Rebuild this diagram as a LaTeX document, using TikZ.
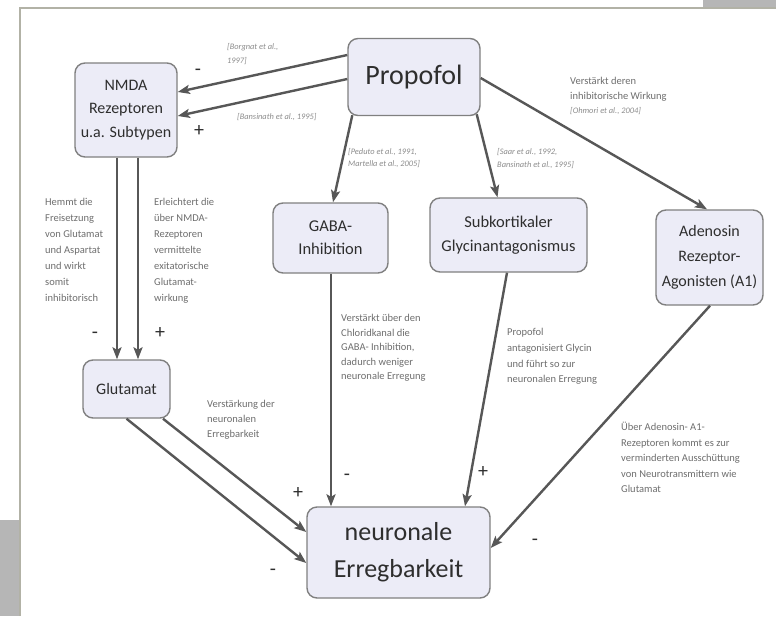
\documentclass[tikz,border=0pt]{standalone}
\usepackage{fontspec}
\setmainfont{Carlito}
\usetikzlibrary{arrows.meta}
\definecolor{boxfill}{HTML}{ECECF7}
\definecolor{boxdraw}{HTML}{808080}
\definecolor{arr}{HTML}{575757}
\definecolor{note}{HTML}{6E6E6E}
\definecolor{cite}{HTML}{8C8C8C}
\definecolor{framecol}{HTML}{B2B2A6}
\definecolor{block}{HTML}{B6B6B6}
\definecolor{boxtext}{HTML}{2E2E2E}
\begin{document}
\begin{tikzpicture}[x=1pt,y=-1pt,
 box/.style={draw=boxdraw, line width=1.4pt, fill=boxfill, rounded corners=10pt, align=center, inner sep=0pt, text=boxtext},
 arrowline/.style={draw=arr, line width=2.4pt, -{Stealth[length=12pt,width=9pt,inset=2.5pt]}},
 sign/.style={font=\fontsize{20}{20}\selectfont, text=boxtext, inner sep=0pt},
 notetext/.style={text=note, align=left, anchor=north west, inner sep=0pt},
 citetext/.style={text=cite, align=left, anchor=north west, inner sep=0pt}]

\useasboundingbox (0,0) rectangle (776,616);
\fill[white] (0,0) rectangle (776,616);
\fill[block] (703,0) rectangle (776,7);
\fill[block] (0,520) rectangle (20,616);
\draw[framecol, line width=2pt] (20,616) -- (20,8) -- (776,8);

% boxes
\node[box, minimum width=132pt, minimum height=77pt, font=\fontsize{28}{32}\selectfont] (prop) at (414,77) {Propofol};
\node[box, minimum width=102pt, minimum height=94pt, font=\fontsize{16}{23.5}\selectfont] (nmda) at (126,110) {NMDA\\Rezeptoren\\u.a. Subtypen};
\node[box, minimum width=115pt, minimum height=70pt, font=\fontsize{16.5}{23}\selectfont] (gaba) at (330.5,238) {GABA-\\Inhibition};
\node[box, minimum width=157pt, minimum height=74pt, font=\fontsize{16.5}{24}\selectfont] (sub) at (508.5,235) {Subkortikaler\\Glycinantagonismus};
\node[box, minimum width=107pt, minimum height=95pt, font=\fontsize{16}{25}\selectfont] (aden) at (709.5,257.5) {Adenosin\\Rezeptor-\\Agonisten (A1)};
\node[box, minimum width=87pt, minimum height=58pt, font=\fontsize{16}{20}\selectfont] (glut) at (126.5,389) {Glutamat};
\node[box, minimum width=183pt, minimum height=91pt, font=\fontsize{26}{37}\selectfont] (neur) at (398.5,552.5) {neuronale\\Erregbarkeit};

% connectors
\draw[arrowline] ([yshift=22pt]prop.west) -- ([yshift=18pt]nmda.east);
\draw[arrowline] ([yshift=-2pt]prop.west) -- ([yshift=-6pt]nmda.east);
\draw[arrowline] ([xshift=5pt,yshift=1pt]prop.south west) -- ([xshift=2.5pt]gaba.north);
\draw[arrowline] ([xshift=-4pt,yshift=2pt]prop.south east) -- ([xshift=-11pt]sub.north);
\draw[arrowline] ([yshift=-1pt]prop.east) -- ([xshift=-2.5pt]aden.north);
\draw[arrowline] ([xshift=-9pt]nmda.south) -- ([xshift=-9.5pt]glut.north);
\draw[arrowline] ([xshift=12pt]nmda.south) -- ([xshift=11.5pt]glut.north);
\draw[arrowline] ([xshift=36.5pt]glut.south) -- ([yshift=20.5pt]neur.west);
\draw[arrowline] (glut.south) -- ([yshift=-10.5pt]neur.west);
\draw[arrowline] ([xshift=0.5pt]gaba.south) -- ([xshift=-67.5pt]neur.north);
\draw[arrowline] ([xshift=-1.5pt]sub.south) -- ([xshift=66.5pt]neur.north);
\draw[arrowline] ([xshift=0.5pt]aden.south) -- ([yshift=4.5pt]neur.east);

% signs
\node[sign] (s1) at (198,72) {-};
\node[sign] (s2) at (199,131) {+};
\node[sign] (s3) at (95,335) {-};
\node[sign] (s4) at (160,333) {+};
\node[sign] (s5) at (298,493) {+};
\node[sign] (s6) at (273,572) {-};
\node[sign] (s7) at (347,477) {-};
\node[sign] (s8) at (483,472) {+};
\node[sign] (s9) at (535,542) {-};

% annotations
\node[notetext, font=\fontsize{10.5}{16}\selectfont] (a1) at (45,198.3) {Hemmt die\\Freisetzung\\von Glutamat\\und Aspartat\\und wirkt\\somit\\inhibitorisch};
\node[notetext, font=\fontsize{10.5}{16}\selectfont] (a2) at (154,198.3) {Erleichtert die\\über NMDA-\\Rezeptoren\\vermittelte\\exitatorische\\Glutamat-\\wirkung};
\node[notetext, font=\fontsize{10.5}{15}\selectfont] (a3) at (207,400.3) {Verstärkung der\\neuronalen\\Erregbarkeit};
\node[notetext, font=\fontsize{10.5}{14.5}\selectfont] (a4) at (341,314.3) {Verstärkt über den\\Chloridkanal die\\GABA- Inhibition,\\dadurch weniger\\neuronale Erregung};
\node[notetext, font=\fontsize{10.5}{15.7}\selectfont] (a5) at (507,328.3) {Propofol\\antagonisiert Glycin\\und führt so zur\\neuronalen Erregung};
\node[notetext, font=\fontsize{10.5}{15.5}\selectfont] (a6) at (621,422.3) {Über Adenosin- A1-\\Rezeptoren kommt es zur\\verminderten Ausschüttung\\von Neurotransmittern wie\\Glutamat};
\node[notetext, font=\fontsize{10.5}{15}\selectfont] (a7) at (570,77.3) {Verstärkt deren\\inhibitorische Wirkung};

% citations
\node[citetext, font=\fontsize{8.4}{14}\selectfont\itshape] (c1) at (227,43.5) {[Borgnat et al.,\\1997]};
\node[citetext, font=\fontsize{8.4}{12}\selectfont\itshape] (c2) at (237,113.5) {[Bansinath et al., 1995]};
\node[citetext, font=\fontsize{8.4}{12}\selectfont\itshape] (c3) at (348,148.5) {[Peduto et al., 1991,\\Martella et al., 2005]};
\node[citetext, font=\fontsize{8.4}{12.5}\selectfont\itshape] (c4) at (497,148.5) {[Saar et al., 1992,\\Bansinath et al., 1995]};
\node[citetext, font=\fontsize{8.4}{12}\selectfont\itshape] (c5) at (570,107.5) {[Ohmori et al., 2004]};
\end{tikzpicture}
\end{document}
